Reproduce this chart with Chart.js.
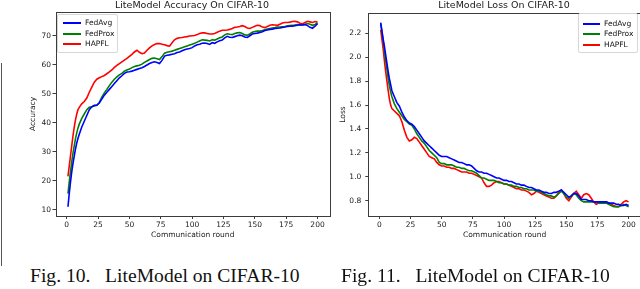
<!DOCTYPE html>
<html>
<head>
<meta charset="utf-8">
<script src="https://cdn.jsdelivr.net/npm/chart.js@4.4.1/dist/chart.umd.min.js"></script>
<style>
  html, body { margin: 0; padding: 0; background: #fff; }
  body { width: 640px; height: 289px; overflow: hidden; position: relative; font-family: "DejaVu Sans", sans-serif; }
  .box { position: absolute; }
  .ttl { position: absolute; top: -1px; width: 300px; margin-left: -150px; text-align: center; font-size: 9.5px; line-height: 11px; color: #1a1a1a; white-space: nowrap; }
  .legend { position: absolute; border: 1px solid #d6d6d6; border-radius: 2px; background: rgba(255,255,255,0.85); }
  .lrow { position: absolute; height: 10px; font-size: 7.5px; line-height: 10px; color: #111; white-space: nowrap; }
  .lrow i { position: absolute; top: 4px; height: 2px; }
  .lrow span { position: absolute; top: 0; }
  .cap { position: absolute; font-family: "Liberation Serif", "Times New Roman", serif; font-size: 19.6px; color: #111; white-space: pre; line-height: 20px; }
  .vline { position: absolute; left: 1px; top: 63px; width: 1px; height: 203px; background: #555; }
</style>
</head>
<body>
<div class="vline"></div>
<div class="box" style="left:0;top:0;width:340px;height:250px"><canvas id="acc"></canvas></div>
<div class="box" style="left:320px;top:0;width:321px;height:250px"><canvas id="loss"></canvas></div>

<div class="ttl" style="left:192px">LiteModel Accuracy On CIFAR-10</div>
<div class="ttl" style="left:504px">LiteModel Loss On CIFAR-10</div>

<div class="legend" id="legA" style="left:57px;top:14px;width:59px;height:37px"></div>
<div class="legend" id="legL" style="left:578px;top:13px;width:58px;height:38px"></div>

<div class="cap" style="left:30px;top:266px">Fig. 10.   LiteModel on CIFAR-10</div>
<div class="cap" style="left:341px;top:266px">Fig. 11.   LiteModel on CIFAR-10</div>

<script>
// ---- data ----
const rounds = [1,2,3,4,5,6,7,8,9,10,
  12,14,16,18,20,22,24,26,28,30,32,34,36,38,40,42,44,46,48,50,
  52,54,56,58,60,62,64,66,68,70,72,74,76,78,80,82,84,86,88,90,
  92,94,96,98,100,102,104,106,108,110,112,114,116,118,120,122,124,126,128,130,
  132,134,136,138,140,142,144,146,148,150,152,154,156,158,160,162,164,166,168,170,
  172,174,176,178,180,182,184,186,188,190,192,194,196,198,200];

const seriesNames = ["FedAvg", "FedProx", "HAPFL"];
const seriesColors = ["#0000ff", "#008000", "#ff0000"];

const accFedAvg = [11,15.5,19.5,23,26,28.5,31,33,34.6,36,
  38.5,40.5,42.5,44.5,45.5,46,46,46.8,48.2,49.5,50.5,51.5,52.5,53.5,54.5,55.5,56.2,57,57.5,57.6,
  57.8,58.1,58.4,58.7,59,59.4,59.9,60.4,60.8,61,60.8,60.4,61.5,63,63.3,63.4,63.6,63.8,64.2,64.4,
  64.8,65.2,65.4,65.6,65.9,66.5,66.9,67.1,67.4,67.5,67.3,67.0,67.6,67.4,67.9,68.3,68.5,69.3,69.8,69.5,
  69.4,69.7,70.0,70.2,70.0,69.6,69.4,70.0,70.6,70.8,70.9,71.1,71.4,71.8,72.0,72.2,72.3,72.5,72.6,72.7,
  72.9,73.0,73.2,73.3,73.3,73.5,73.6,73.8,73.7,73.9,73.5,72.9,72.6,73.3,74.2];
const accFedProx = [15.5,19.5,23,26.5,29.5,32,34.5,36.5,38.2,39.5,
  41.5,43,44.5,45.3,45.5,45.8,46,47,48.8,50.3,51.5,52.8,54,55,55.8,56.5,57,57.8,58.2,58.5,
  59.0,59.4,59.6,59.8,60.2,60.8,61.3,61.8,62.2,62.3,62.1,61.8,62.8,64.0,64.3,64.5,64.7,65.0,65.3,65.6,
  65.9,66.2,66.5,66.8,67.1,67.4,67.8,68.2,68.6,68.5,68.4,68.2,68.6,68.5,68.9,69.3,69.6,70.3,70.7,70.5,
  70.4,70.8,71.0,71.1,70.8,70.3,70.2,70.6,71.2,71.5,71.6,71.6,71.8,72.1,72.3,72.5,72.7,72.8,73.0,73.0,
  73.1,73.2,73.4,73.5,73.6,73.7,73.9,73.8,73.7,73.9,74.2,74.0,73.6,73.9,74.4];
const accHAPFL = [21.5,25,28.5,32,35.5,38.5,41,43,44.5,45.3,
  46.5,47.3,48.5,50.5,52.3,54,55,55.5,55.9,56.3,56.9,57.5,58.2,59.1,59.8,60.4,61,61.6,62.2,62.9,
  63.6,64.4,65.0,64.3,63.8,64.0,65.0,65.8,66.5,67.0,67.3,67.3,67.1,66.9,66.6,66.4,67.6,68.6,69.1,69.3,
  69.4,69.6,69.7,69.9,70.0,70.1,70.4,70.8,71.0,71.0,70.8,70.6,70.6,70.8,71.2,71.6,71.9,71.9,72.0,72.2,
  72.5,72.9,73.0,73.2,73.5,73.2,72.7,72.5,72.9,73.3,73.6,73.5,73.0,72.8,73.2,73.6,73.8,73.7,73.6,74.0,
  74.4,74.6,74.6,74.7,74.9,75.0,74.8,74.3,74.1,74.6,75.0,74.8,74.6,74.9,74.7];

const lossFedAvg = [2.29,2.22,2.15,2.09,2.02,1.95,1.88,1.82,1.77,1.72,
  1.67,1.62,1.59,1.54,1.50,1.47,1.45,1.44,1.42,1.39,1.36,1.33,1.30,1.28,1.26,1.24,1.22,1.20,1.18,1.17,
  1.17,1.17,1.16,1.15,1.14,1.13,1.12,1.12,1.11,1.10,1.10,1.09,1.07,1.05,1.04,1.04,1.03,1.03,1.02,1.01,
  1.00,0.99,0.99,0.98,0.97,0.97,0.96,0.96,0.95,0.94,0.94,0.93,0.93,0.92,0.91,0.91,0.90,0.89,0.89,0.88,
  0.87,0.87,0.86,0.86,0.87,0.87,0.88,0.89,0.87,0.85,0.83,0.84,0.86,0.86,0.84,0.81,0.81,0.81,0.80,0.80,
  0.79,0.79,0.79,0.79,0.79,0.79,0.78,0.78,0.78,0.77,0.77,0.76,0.76,0.77,0.76];
const lossFedProx = [2.28,2.21,2.14,2.05,1.97,1.90,1.82,1.76,1.71,1.67,
  1.61,1.57,1.54,1.51,1.48,1.46,1.44,1.43,1.40,1.36,1.33,1.30,1.28,1.25,1.22,1.20,1.18,1.16,1.12,1.11,
  1.11,1.10,1.10,1.10,1.09,1.08,1.08,1.07,1.07,1.06,1.05,1.05,1.04,1.03,1.01,0.99,0.99,0.98,0.97,0.97,
  0.97,0.96,0.95,0.95,0.94,0.94,0.93,0.93,0.92,0.92,0.91,0.91,0.90,0.90,0.89,0.89,0.89,0.88,0.88,0.87,
  0.86,0.85,0.84,0.84,0.83,0.84,0.86,0.88,0.86,0.83,0.82,0.84,0.86,0.85,0.82,0.80,0.79,0.79,0.79,0.79,
  0.79,0.79,0.78,0.78,0.78,0.78,0.77,0.76,0.75,0.75,0.75,0.76,0.77,0.76,0.75];
const lossHAPFL = [2.23,2.15,2.07,1.97,1.88,1.80,1.72,1.65,1.60,1.57,
  1.55,1.53,1.51,1.46,1.39,1.33,1.30,1.31,1.33,1.32,1.29,1.26,1.23,1.20,1.17,1.16,1.15,1.12,1.10,1.09,
  1.09,1.08,1.08,1.07,1.07,1.06,1.05,1.04,1.04,1.04,1.03,1.03,1.02,1.01,1.00,0.99,0.95,0.92,0.92,0.93,
  0.95,0.96,0.96,0.95,0.94,0.94,0.93,0.92,0.91,0.90,0.90,0.89,0.89,0.88,0.87,0.85,0.86,0.88,0.87,0.86,
  0.85,0.84,0.83,0.82,0.82,0.84,0.87,0.89,0.86,0.82,0.80,0.83,0.86,0.88,0.85,0.82,0.85,0.86,0.85,0.82,
  0.79,0.77,0.78,0.79,0.79,0.79,0.78,0.77,0.76,0.75,0.75,0.77,0.79,0.80,0.79];

const xTicks = [0, 25, 50, 75, 100, 125, 150, 175, 200];
const accTicks = [10, 20, 30, 40, 50, 60, 70];
const lossTicks = ["0.8", "1.0", "1.2", "1.4", "1.6", "1.8", "2.0", "2.2"];

// ---- helpers ----
const FONT = "DejaVu Sans";
const TXT = "#1a1a1a";
const AX = "#3c3c3c";
const FS = 7.5;

const framePlugin = {
  id: "frame",
  afterDatasetsDraw(chart) {
    const { ctx, chartArea: a } = chart;
    ctx.save();
    ctx.strokeStyle = AX;
    ctx.lineWidth = 1;
    ctx.strokeRect(Math.round(a.left) + 0.5, Math.round(a.top) + 0.5,
      Math.round(a.right) - Math.round(a.left), Math.round(a.bottom) - Math.round(a.top));
    ctx.restore();
  }
};

function makeDatasets(vals) {
  return vals.map((v, i) => ({
    label: seriesNames[i],
    data: rounds.map((r, k) => ({ x: r, y: v[k] })),
    borderColor: seriesColors[i],
    backgroundColor: seriesColors[i],
    borderWidth: 1.6,
    pointRadius: 0,
    tension: 0,
    fill: false
  }));
}

function makeChart(id, cfg) {
  return new Chart(document.getElementById(id), {
    type: "line",
    data: { datasets: makeDatasets(cfg.values) },
    plugins: [framePlugin],
    options: {
      responsive: true,
      maintainAspectRatio: false,
      animation: false,
      devicePixelRatio: 1,
      layout: { padding: cfg.padding },
      plugins: {
        legend: { display: false },
        tooltip: { enabled: false },
        title: { display: false }
      },
      scales: {
        x: {
          type: "linear",
          min: -8.95,
          max: 209.95,
          afterBuildTicks: s => { s.ticks = xTicks.map(v => ({ value: v })); },
          afterFit: s => { s.height = 34; },
          grid: { display: true, drawOnChartArea: false, drawTicks: true, tickLength: 3, tickColor: AX, lineWidth: 1 },
          border: { display: false },
          ticks: { color: TXT, font: { family: FONT, size: FS }, padding: 2, maxRotation: 0, autoSkip: false,
                   callback: v => String(v) },
          title: { display: true, text: "Communication round", color: TXT,
                   font: { family: FONT, size: FS }, padding: { top: 0, bottom: 10 } }
        },
        y: {
          type: "linear",
          min: cfg.ymin,
          max: cfg.ymax,
          afterBuildTicks: s => { s.ticks = cfg.yTicks.map(v => ({ value: Number(v) })); },
          afterFit: s => { s.width = cfg.yWidth; },
          grid: { display: true, drawOnChartArea: false, drawTicks: true, tickLength: 3, tickColor: AX, lineWidth: 1 },
          border: { display: false },
          ticks: { color: TXT, font: { family: FONT, size: FS }, padding: cfg.yPad, autoSkip: false,
                   callback: v => cfg.yFmt(v) },
          title: { display: true, text: cfg.yLabel, color: TXT,
                   font: { family: FONT, size: FS }, padding: { top: cfg.yTitlePad, bottom: 0 } }
        }
      }
    }
  });
}

makeChart("acc", {
  values: [accFedAvg, accFedProx, accHAPFL],
  padding: { left: 0, right: 10, top: 12, bottom: 0 },
  ymin: 7.8, ymax: 78.2,
  yTicks: accTicks,
  yWidth: 55.5,
  yPad: 1.5,
  yTitlePad: 28.5,
  yLabel: "Accuracy",
  yFmt: v => String(v)
});

makeChart("loss", {
  values: [lossFedAvg, lossFedProx, lossHAPFL],
  padding: { left: 0, right: 0, top: 13, bottom: 0 },
  ymin: 0.672, ymax: 2.37,
  yTicks: lossTicks,
  yWidth: 48.3,
  yPad: 4,
  yTitlePad: 18.8,
  yLabel: "Loss",
  yFmt: v => v.toFixed(1)
});

// ---- legends (HTML) ----
function buildLegend(id, rowTops, lineLeft, lineW, textLeft) {
  const el = document.getElementById(id);
  seriesNames.forEach((n, i) => {
    const row = document.createElement("div");
    row.className = "lrow";
    row.style.top = rowTops[i] + "px";
    row.style.left = "0px";
    row.innerHTML = '<i style="left:' + lineLeft + 'px;width:' + lineW + 'px;background:' + seriesColors[i] + '"></i>' +
                    '<span style="left:' + textLeft + 'px">' + n + '</span>';
    el.appendChild(row);
  });
}
buildLegend("legA", [3, 13.5, 24], 5, 18, 27);
buildLegend("legL", [4.5, 15, 25.5], 4, 17, 25);
</script>
</body>
</html>
